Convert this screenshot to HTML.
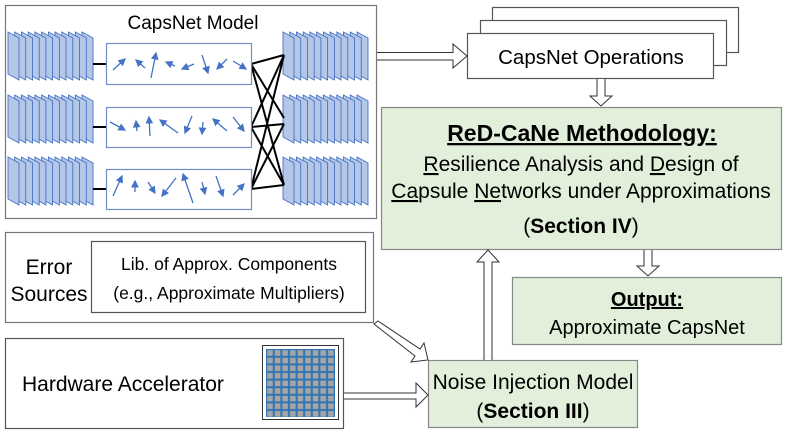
<!DOCTYPE html>
<html><head><meta charset="utf-8"><style>
body{margin:0;background:#fff}
svg{display:block}
text{font-family:"Liberation Sans",sans-serif;fill:#000}
</style></head><body>
<svg width="789" height="434" viewBox="0 0 789 434" xmlns="http://www.w3.org/2000/svg">
<defs>
<polygon id="pg" points="0,0 11,6 11,48 0,42" fill="#b4c7e7" stroke="#4472c4" stroke-width="0.9"/>
<g id="stack">
<use href="#pg" x="74"/><use href="#pg" x="67.3"/><use href="#pg" x="60.5"/><use href="#pg" x="53.8"/><use href="#pg" x="47"/><use href="#pg" x="40.4"/><use href="#pg" x="33.6"/><use href="#pg" x="26.9"/><use href="#pg" x="20.2"/><use href="#pg" x="13.5"/><use href="#pg" x="6.7"/><use href="#pg" x="0"/>
</g>
<marker id="ah" markerWidth="6" markerHeight="6" refX="5" refY="3" orient="auto"><path d="M0,0 L6,3 L0,6z" fill="#4472c4"/></marker>
</defs>
<!-- CapsNet model -->
<rect x="5.5" y="5.5" width="371" height="213" fill="#fff" stroke="#777" stroke-width="1.2"/>
<text x="193" y="29" font-size="19" text-anchor="middle">CapsNet Model</text>
<use href="#stack" x="8" y="32"/><use href="#stack" x="8" y="95"/><use href="#stack" x="8" y="157"/>
<use href="#stack" x="283" y="32"/><use href="#stack" x="283" y="95"/><use href="#stack" x="283" y="157"/>
<g stroke="#000" stroke-width="2" fill="none">
<line x1="93" y1="64" x2="106" y2="64"/><line x1="93" y1="127" x2="106" y2="127"/><line x1="93" y1="189" x2="106" y2="189"/>
<path d="M251,64 L284,55 M251,64 L284,118 M251,64 L284,185 M251,127 L284,55 M251,127 L284,124 M251,127 L284,185 M251,189 L284,55 M251,189 L284,124 M251,189 L284,185"/>
</g>
<g fill="#fff" stroke="#6f8fc8" stroke-width="1.2">
<rect x="106.5" y="43.5" width="145" height="41"/><rect x="106.5" y="107.5" width="145" height="40"/><rect x="106.5" y="169.5" width="145" height="40"/>
</g>
<g stroke="#4472c4" stroke-width="1.3" marker-end="url(#ah)">
<line x1="113" y1="70" x2="125" y2="59"/><line x1="145" y1="68" x2="136" y2="60"/><line x1="151" y1="78" x2="156" y2="53"/><line x1="175" y1="66" x2="166" y2="62"/><line x1="194" y1="64" x2="182" y2="69"/><line x1="202" y1="55" x2="208" y2="73"/><line x1="227" y1="59" x2="217" y2="69"/><line x1="233" y1="61" x2="246" y2="69"/>
<line x1="110" y1="122" x2="125" y2="130"/><line x1="137" y1="131" x2="136" y2="121"/><line x1="150" y1="136" x2="149" y2="117"/><line x1="178" y1="133" x2="160" y2="120"/><line x1="192" y1="116" x2="185" y2="133"/><line x1="203" y1="122" x2="202" y2="134"/><line x1="227" y1="131" x2="213" y2="119"/><line x1="233" y1="117" x2="244" y2="131"/>
<line x1="113" y1="196" x2="122" y2="176"/><line x1="135" y1="192" x2="135" y2="181"/><line x1="148" y1="182" x2="155" y2="193"/><line x1="176" y1="178" x2="162" y2="196"/><line x1="193" y1="203" x2="183" y2="174"/><line x1="202" y1="182" x2="205" y2="194"/><line x1="216" y1="176" x2="223" y2="196"/><line x1="233" y1="195" x2="244" y2="184"/>
</g>
<!-- CapsNet Operations -->
<rect x="492.5" y="7.5" width="246" height="45" fill="#fff" stroke="#555" stroke-width="1.2"/>
<rect x="480.5" y="20.5" width="246" height="45" fill="#fff" stroke="#555" stroke-width="1.2"/>
<rect x="467.5" y="33.5" width="246" height="45" fill="#fff" stroke="#555" stroke-width="1.2"/>
<text x="591" y="64" font-size="20.5" text-anchor="middle">CapsNet Operations</text>
<path d="M377,52.5 H453 V44 L467,56 L453,68 V60 H377" fill="#fff" stroke="#333" stroke-width="1"/>
<path d="M597,79 V96 H590 L601,106 L612,96 H605 V79" fill="#fff" stroke="#333" stroke-width="1"/>
<!-- ReD-CaNe -->
<rect x="381.5" y="107.5" width="400" height="142" fill="#e2efda" stroke="#888" stroke-width="1.2"/>
<text x="582" y="141" font-size="23" font-weight="bold" text-anchor="middle" text-decoration="underline">ReD-CaNe Methodology:</text>
<text x="581" y="171" font-size="21" text-anchor="middle"><tspan text-decoration="underline">R</tspan>esilience Analysis and <tspan text-decoration="underline">D</tspan>esign of</text>
<text x="581" y="198" font-size="21" text-anchor="middle"><tspan text-decoration="underline">Ca</tspan>psule <tspan text-decoration="underline">Ne</tspan>tworks under Approximations</text>
<text x="581" y="233" font-size="21" text-anchor="middle">(<tspan font-weight="bold">Section IV</tspan>)</text>
<path d="M644,250 V266 H637 L648,276 L659,266 H652 V250" fill="#fff" stroke="#333" stroke-width="1"/>
<!-- Output -->
<rect x="512.5" y="277.5" width="269" height="67" fill="#e2efda" stroke="#888" stroke-width="1.2"/>
<text x="647" y="306" font-size="20" font-weight="bold" text-anchor="middle" text-decoration="underline">Output:</text>
<text x="647" y="334" font-size="20" text-anchor="middle">Approximate CapsNet</text>
<!-- Error sources -->
<rect x="5.5" y="232.5" width="368" height="90" fill="#fff" stroke="#777" stroke-width="1.2"/>
<text x="49" y="274" font-size="21" text-anchor="middle">Error</text>
<text x="49" y="301" font-size="21" text-anchor="middle">Sources</text>
<rect x="91.5" y="241.5" width="274" height="71" fill="#fff" stroke="#555" stroke-width="1.2"/>
<text x="229" y="270" font-size="17.5" text-anchor="middle">Lib. of Approx. Components</text>
<text x="229" y="299" font-size="17.5" text-anchor="middle">(e.g., Approximate Multipliers)</text>
<!-- Hardware -->
<rect x="5.5" y="338.5" width="338" height="90" fill="#fff" stroke="#555" stroke-width="1.2"/>
<text x="22" y="391" font-size="21">Hardware Accelerator</text>
<rect x="262.5" y="345.5" width="76" height="74" fill="#fff" stroke="#333" stroke-width="1"/>
<defs><pattern id="grid" x="266" y="349" width="7.6" height="7.6" patternUnits="userSpaceOnUse"><rect width="7.6" height="7.6" fill="#2e75b6"/><rect x="1.2" y="1.2" width="5.6" height="5.6" fill="#a6a6a6"/></pattern></defs>
<rect x="266" y="349" width="69" height="68" fill="url(#grid)"/>
<!-- Noise -->
<rect x="428.5" y="360.5" width="209" height="67" fill="#e2efda" stroke="#888" stroke-width="1.2"/>
<text x="533" y="389" font-size="21" text-anchor="middle">Noise Injection Model</text>
<text x="533" y="418" font-size="21" text-anchor="middle">(<tspan font-weight="bold">Section III</tspan>)</text>
<path d="M344,393 H416 V383 L428,395 L416,407 V399 H344" fill="#fff" stroke="#333" stroke-width="1"/>
<path d="M374,324 L378,321 L420,349 L424,343 L428,360 L411,362 L415,356 Z" fill="#fff" stroke="#333" stroke-width="1"/>
<path d="M484,360 V262 H477 L488,250 L499,262 H492 V360" fill="#fff" stroke="#333" stroke-width="1"/>
</svg>
</body></html>
